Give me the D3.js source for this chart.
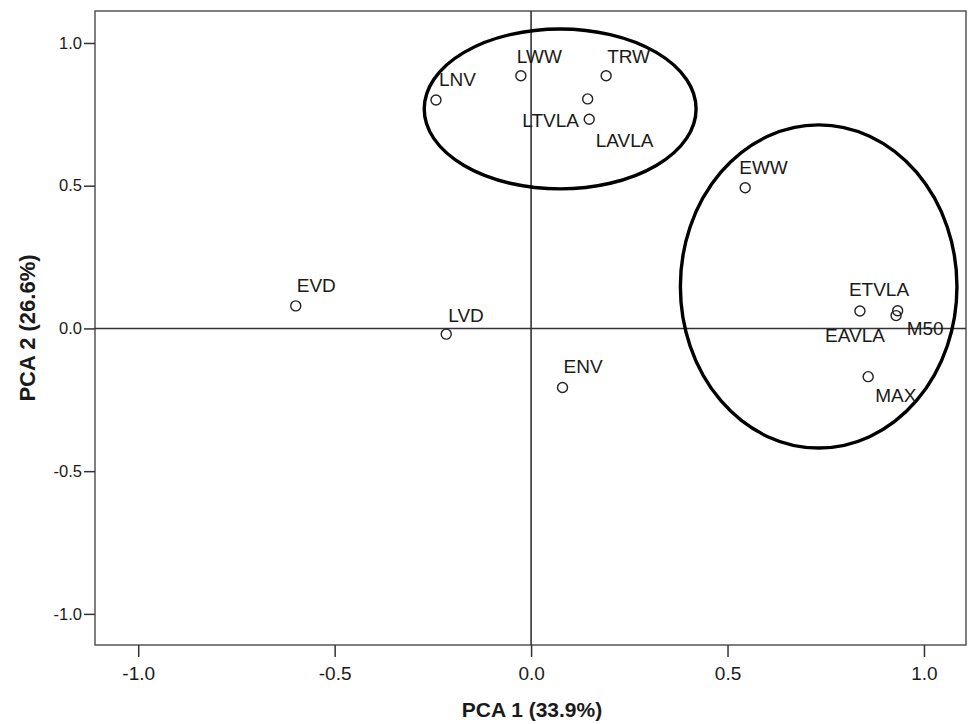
<!DOCTYPE html>
<html>
<head>
<meta charset="utf-8">
<script src="https://cdn.jsdelivr.net/npm/d3@7"></script>
<style>
  body { margin: 0; background: #fff; }
  text { font-family: "Liberation Sans", Arial, sans-serif; fill: #1a1a1a; }
</style>
</head>
<body>
<script>
// variable names and loadings on the two components
const names = ['LNV', 'LWW', 'TRW', 'LAVLA', 'LTVLA', 'EWW', 'ETVLA', 'M50', 'EAVLA', 'MAX', 'EVD', 'LVD', 'ENV'];
const pca1 = [-0.242, -0.026, 0.191, 0.144, 0.148, 0.545, 0.837, 0.933, 0.929, 0.858, -0.599, -0.216, 0.080];
const pca2 = [0.800, 0.885, 0.885, 0.804, 0.733, 0.493, 0.061, 0.062, 0.045, -0.169, 0.079, -0.020, -0.207];

// tick values
const xTicks = [-1.0, -0.5, 0.0, 0.5, 1.0];
const yTicks = [-1.0, -0.5, 0.0, 0.5, 1.0];

// the two groups drawn as ellipses (centre and radii in axis units)
const groupCx = [0.074, 0.732];
const groupCy = [0.769, 0.147];
const groupRx = [0.346, 0.352];
const groupRy = [0.280, 0.566];

// where each label sits relative to its point (pixels)
const labelPos = {
  LNV: [3, -14], LWW: [-4, -13], TRW: [1, -13], LAVLA: [8, 48], LTVLA: [-67, 8],
  EWW: [-6, -14], ETVLA: [-11, -15], M50: [9, 24], EAVLA: [-71, 26], MAX: [7, 25],
  EVD: [1, -14], LVD: [2, -12], ENV: [1, -15]
};

const W = 968, H = 724;
const bordG = 95, bordD = 966, bordH = 11, bordB = 645;

// SPSS writes a plain hyphen, not the unicode minus
const fmt = d => d3.format('.1f')(d).replace('\u2212', '-');

const svg = d3.select('body')
  .append('svg')
  .attr('width', W)
  .attr('height', H);

const x = d3.scaleLinear().domain([-1.11, 1.107]).range([bordG, bordD]);
const y = d3.scaleLinear().domain([-1.109, 1.112]).range([bordB, bordH]);

// frame
svg.append('rect')
  .attr('x', bordG).attr('y', bordH)
  .attr('width', bordD - bordG).attr('height', bordB - bordH)
  .attr('fill', 'none')
  .attr('stroke', '#555')
  .attr('stroke-width', 1.5);

// axes
const xAxis = svg.append('g')
  .attr('transform', `translate(0,${bordB})`)
  .call(d3.axisBottom(x).tickValues(xTicks).tickSize(12).tickSizeOuter(0).tickFormat(fmt));
xAxis.select('.domain').remove();
xAxis.selectAll('line').attr('stroke', '#333').attr('stroke-width', 1.5);
xAxis.selectAll('text')
  .attr('y', 22)
  .attr('dy', '0.71em')
  .style('font-size', '19px')
  .style('font-family', '"Liberation Sans", Arial, sans-serif')
  .attr('fill', '#1a1a1a');

const yAxis = svg.append('g')
  .attr('transform', `translate(${bordG},0)`)
  .call(d3.axisLeft(y).tickValues(yTicks).tickSize(11).tickSizeOuter(0).tickFormat(fmt));
yAxis.select('.domain').remove();
yAxis.selectAll('line').attr('stroke', '#333').attr('stroke-width', 1.5);
yAxis.selectAll('text')
  .attr('x', -13)
  .style('font-size', '16.5px')
  .style('font-family', '"Liberation Sans", Arial, sans-serif')
  .attr('fill', '#1a1a1a');

// zero reference lines
svg.append('line')
  .attr('x1', bordG).attr('x2', bordD)
  .attr('y1', y(0)).attr('y2', y(0))
  .attr('stroke', '#333').attr('stroke-width', 1.6);
svg.append('line')
  .attr('x1', x(0)).attr('x2', x(0))
  .attr('y1', bordH).attr('y2', bordB)
  .attr('stroke', '#333').attr('stroke-width', 1.6);

// axis titles
svg.append('text')
  .attr('x', 532).attr('y', 717)
  .attr('text-anchor', 'middle')
  .style('font-size', '21px')
  .style('font-weight', 'bold')
  .text('PCA 1 (33.9%)');

svg.append('text')
  .attr('transform', 'translate(35,328) rotate(-90)')
  .attr('text-anchor', 'middle')
  .style('font-size', '22px')
  .style('font-weight', 'bold')
  .text('PCA 2 (26.6%)');

// group ellipses
svg.selectAll('ellipse.groupe')
  .data(d3.range(groupCx.length))
  .enter()
  .append('ellipse')
  .attr('class', 'groupe')
  .attr('cx', i => x(groupCx[i]))
  .attr('cy', i => y(groupCy[i]))
  .attr('rx', i => x(groupRx[i]) - x(0))
  .attr('ry', i => y(0) - y(groupRy[i]))
  .attr('fill', 'none')
  .attr('stroke', '#000')
  .attr('stroke-width', 3.4);

// points
const pts = names.map((n, i) => ({ name: n, a: pca1[i], b: pca2[i] }));

svg.selectAll('circle.pt')
  .data(pts)
  .enter()
  .append('circle')
  .attr('class', 'pt')
  .attr('cx', d => x(d.a))
  .attr('cy', d => y(d.b))
  .attr('r', 5)
  .attr('fill', 'none')
  .attr('stroke', '#222')
  .attr('stroke-width', 1.4);

// labels
svg.selectAll('text.lab')
  .data(pts)
  .enter()
  .append('text')
  .attr('class', 'lab')
  .attr('x', d => x(d.a) + labelPos[d.name][0])
  .attr('y', d => y(d.b) + labelPos[d.name][1])
  .style('font-size', '19px')
  .text(d => d.name);
</script>
</body>
</html>
